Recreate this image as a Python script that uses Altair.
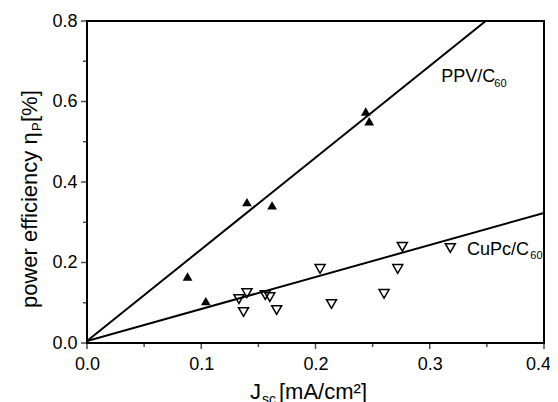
import altair as alt
import pandas as pd

# --- data ---
ppv_j = [0.088, 0.104, 0.140, 0.162, 0.244, 0.247]
ppv_eta = [0.165, 0.104, 0.350, 0.342, 0.575, 0.551]

cupc_j = [0.133, 0.140, 0.137, 0.156, 0.160, 0.166, 0.204, 0.214, 0.260, 0.272, 0.276, 0.318]
cupc_eta = [0.109, 0.124, 0.077, 0.119, 0.114, 0.082, 0.184, 0.097, 0.122, 0.184, 0.239, 0.236]

ppv_fit_j = [0.0, 0.349]
ppv_fit_eta = [0.005, 0.80]
cupc_fit_j = [0.0, 0.40]
cupc_fit_eta = [0.005, 0.323]

y_major = [0.0, 0.2, 0.4, 0.6, 0.8]
y_minor = [0.1, 0.3, 0.5, 0.7]
x_major = [0.0, 0.1, 0.2, 0.3, 0.4]
x_minor = [0.05, 0.15, 0.25, 0.35]

lab_text = ["PPV/C", "CuPc/C"]
lab_x = [0.310, 0.3326]
lab_y = [0.648, 0.219]
sub_text = ["60", "60"]
sub_x = [0.3565, 0.3880]
sub_y = [0.637, 0.209]

W, H = 457, 322
FONT = "Liberation Sans"

xs = alt.Scale(domain=[0, 0.4], nice=False, zero=False)
ys = alt.Scale(domain=[0, 0.8], nice=False, zero=False)

xaxis = alt.Axis(values=x_major, format=".1f", ticks=False, tickSize=0, domain=False,
                 grid=False, labelFontSize=18, labelFont=FONT, labelColor="black",
                 labelPadding=12, title=None, labelFlush=False,
                 labelOffset={"condition": {"test": "datum.value >= 0.39", "value": -6}, "value": 0})
yaxis = alt.Axis(values=y_major, format=".1f", ticks=False, tickSize=0, domain=False,
                 grid=False, labelFontSize=18, labelFont=FONT, labelColor="black",
                 labelPadding=10, title=None, labelFlush=False)


def X(f):
    return alt.X(f, scale=xs, axis=xaxis, title=None)


def Y(f):
    return alt.Y(f, scale=ys, axis=yaxis, title=None)


ppv_df = pd.DataFrame({"j": ppv_j, "eta": ppv_eta})
cupc_df = pd.DataFrame({"j": cupc_j, "eta": cupc_eta})
ppv_fit = pd.DataFrame({"j": ppv_fit_j, "eta": ppv_fit_eta})
cupc_fit = pd.DataFrame({"j": cupc_fit_j, "eta": cupc_fit_eta})

line1 = alt.Chart(ppv_fit).mark_line(color="black", strokeWidth=2, clip=True).encode(x=X("j:Q"), y=Y("eta:Q"))
line2 = alt.Chart(cupc_fit).mark_line(color="black", strokeWidth=2, clip=True).encode(x=X("j:Q"), y=Y("eta:Q"))

pts1 = alt.Chart(ppv_df).mark_point(shape="triangle-up", filled=True, color="black", size=95, opacity=1).encode(
    x=X("j:Q"), y=Y("eta:Q"))
pts2 = alt.Chart(cupc_df).mark_point(shape="triangle-down", filled=False, color="black", size=100,
                                     strokeWidth=1.5, opacity=1).encode(x=X("j:Q"), y=Y("eta:Q"))

# outward ticks (major and minor)
ytick_major = alt.Chart(pd.DataFrame({"eta": y_major})).mark_tick(
    orient="horizontal", size=6, thickness=1.5, color="black").encode(
    y=Y("eta:Q"), x=alt.value(-3))
ytick_minor = alt.Chart(pd.DataFrame({"eta": y_minor})).mark_tick(
    orient="horizontal", size=4, thickness=1.5, color="black").encode(
    y=Y("eta:Q"), x=alt.value(-2))
xtick_major = alt.Chart(pd.DataFrame({"j": x_major})).mark_tick(
    orient="vertical", size=6, thickness=1.5, color="black").encode(
    x=X("j:Q"), y=alt.value(H + 3))
xtick_minor = alt.Chart(pd.DataFrame({"j": x_minor})).mark_tick(
    orient="vertical", size=4, thickness=1.5, color="black").encode(
    x=X("j:Q"), y=alt.value(H + 2))

lab_df = pd.DataFrame({"t": lab_text, "j": lab_x, "eta": lab_y})
sub_df = pd.DataFrame({"t": sub_text, "j": sub_x, "eta": sub_y})
labels = alt.Chart(lab_df).mark_text(align="left", baseline="alphabetic", font=FONT, fontSize=18,
                                     color="black").encode(x=X("j:Q"), y=Y("eta:Q"), text="t:N")
subs = alt.Chart(sub_df).mark_text(align="left", baseline="alphabetic", font=FONT, fontSize=11,
                                   color="black").encode(x=X("j:Q"), y=Y("eta:Q"), text="t:N")


# axis titles built from text pieces (for sub/superscripts)
def txt(s, x, y, size, angle=0):
    kw = dict(align="left", baseline="alphabetic", font=FONT, fontSize=size, color="black", text=s)
    if angle:
        kw["angle"] = angle
    return alt.Chart(pd.DataFrame({"a": [0]})).mark_text(**kw).encode(x=alt.value(x), y=alt.value(y))


xt1 = txt("J", 163, 378, 22)
xt2 = txt("sc", 175, 383, 14)
xt3 = txt("[mA/cm²]", 192, 378, 22)

yt1 = txt("power efficiency η", -50, 287, 22, 270)
yt2 = txt("P", -46, 110, 13, 270)
yt3 = txt(" [%]", -50, 101, 22, 270)

chart = alt.layer(
    line1, line2, pts1, pts2,
    ytick_major, ytick_minor, xtick_major, xtick_minor,
    labels, subs, xt1, xt2, xt3, yt1, yt2, yt3,
).properties(
    width=W, height=H,
    autosize=alt.AutoSizeParams(type="none"),
    padding={"left": 79, "top": 13, "right": 6, "bottom": 60},
    background="white",
).configure_view(stroke="black", strokeWidth=2)

chart.save("out.html", embed_options={"renderer": "svg", "actions": False})
